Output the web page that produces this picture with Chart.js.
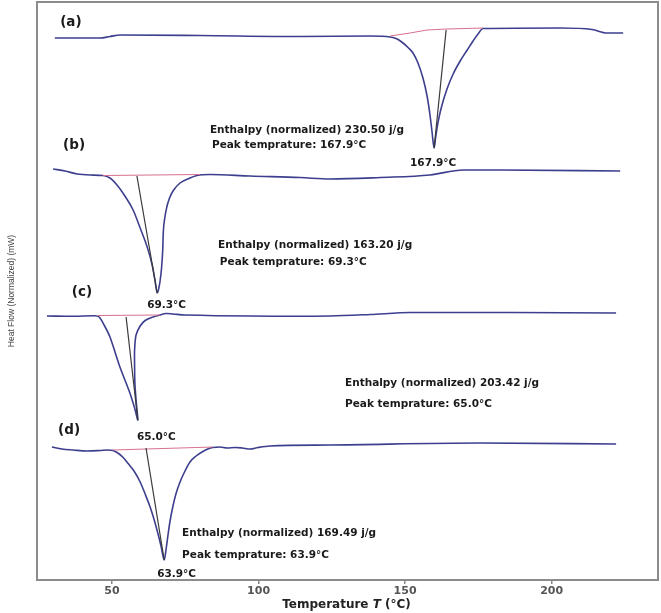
<!DOCTYPE html>
<html>
<head>
<meta charset="utf-8">
<script src="https://cdn.jsdelivr.net/npm/chart.js@4.4.1/dist/chart.umd.min.js"></script>
<style>
  body { margin: 0; background: #fff; }
  #box { width: 661px; height: 613px; }
</style>
</head>
<body>
<div id="box"><canvas id="graph"></canvas></div>
<script>
// DSC curves (a)-(d), temperature in °C, heat flow in arbitrary stacked units
var aTemp = [30.5, 45.9, 49.3, 52.7, 80.0, 114.2, 138.1, 144.9, 147.3, 149.3, 151.0, 152.7, 154.4, 156.1, 157.5, 158.5, 159.2, 159.9, 160.4, 160.9, 161.6, 162.6, 164.3, 166.4, 168.8, 171.2, 173.2, 174.9, 176.6, 202.9, 213.8, 218.9, 224.4];
var aFlow = [542, 542, 543.5, 545, 544.5, 543.5, 544, 543, 541, 537, 532.5, 527, 517, 502, 484, 465, 448, 432, 442, 452, 463, 475, 491, 506, 519, 530, 539, 546, 551.5, 552, 550.5, 547, 547];
var aBaseTemp = [144.9, 151.7, 157.5, 164.3, 176.6];
var aBaseFlow = [544, 547, 550, 551, 552];
var aPeakTemp = [164.0, 159.9];
var aPeakFlow = [550, 432];

var bTemp = [29.9, 34.0, 38.1, 42.5, 46.9, 49.3, 51.7, 54.4, 57.2, 59.6, 62.0, 63.7, 64.7, 65.4, 65.9, 66.4, 66.9, 67.3, 67.5, 68.0, 68.7, 69.5, 70.8, 73.2, 76.6, 79.0, 83.4, 97.1, 114.2, 124.4, 141.5, 158.5, 169.8, 182.4, 223.4];
var bFlow = [411, 409, 406, 405, 404.5, 402, 395, 384, 370, 352, 333, 315, 299, 287, 291, 299, 312, 330, 348, 362, 373, 381, 389, 397, 402, 404.5, 405.5, 404, 402.5, 401, 402.5, 405, 410, 410, 409];
var bBaseTemp = [46.9, 80.0];
var bBaseFlow = [404.5, 405.5];
var bPeakTemp = [58.5, 65.4];
var bPeakFlow = [404, 287];

var cTemp = [27.8, 37.4, 44.2, 45.6, 47.3, 49.3, 52.7, 56.1, 57.8, 58.8, 58.2, 57.8, 57.7, 57.7, 58.2, 59.6, 61.3, 64.0, 66.4, 68.4, 70.8, 74.9, 97.1, 124.4, 138.1, 151.7, 222.0];
var cFlow = [264, 263.7, 264.2, 263, 255, 243, 213, 187, 171, 160, 180, 197, 215, 230, 245, 254, 259.5, 263, 265, 266.5, 266, 265, 264, 264, 265.5, 267.5, 267];
var cBaseTemp = [45.2, 66.4];
var cBaseFlow = [264.5, 265];
var cPeakTemp = [54.8, 58.8];
var cPeakFlow = [263, 160];

var dTemp = [29.5, 32.9, 36.7, 41.5, 45.9, 48.6, 50.3, 52.0, 53.8, 55.5, 57.5, 59.6, 61.3, 63.0, 64.4, 65.7, 66.8, 67.8, 68.5, 69.1, 69.8, 70.8, 71.8, 73.2, 74.9, 76.6, 78.7, 81.0, 82.7, 84.4, 86.8, 89.3, 92.0, 94.4, 97.1, 99.8, 103.9, 124.4, 175.6, 222.0];
var dFlow = [133, 131, 130, 129, 129.5, 130, 129.5, 127, 122.5, 116.5, 109, 98, 86, 73, 60, 46, 33, 20, 32, 45, 59, 74, 86, 98, 109, 118, 124, 128.5, 131, 132.5, 133, 132, 132.5, 132, 131, 132.5, 134, 135, 137, 136];
var dBaseTemp = [50.3, 84.4];
var dBaseFlow = [130, 133];
var dPeakTemp = [61.6, 67.8];
var dPeakFlow = [132, 20];

var xTicks = [50, 100, 150, 200];

// [text, temp, flow, kind]
var notes = [
  ['(a)', 32.3, 558, 'tag'],
  ['Enthalpy (normalized) 230.50 j/g', 83.4, 450, 'txt'],
  ['Peak temprature: 167.9°C', 84.1, 435, 'txt'],
  ['167.9°C', 151.7, 417, 'txt'],
  ['(b)', 33.3, 435, 'tag'],
  ['Enthalpy (normalized) 163.20 j/g', 86.2, 335, 'txt'],
  ['Peak temprature: 69.3°C', 86.8, 318, 'txt'],
  ['69.3°C', 62.0, 275, 'txt'],
  ['(c)', 36.3, 288, 'tag'],
  ['Enthalpy (normalized) 203.42 j/g', 129.5, 197, 'txt'],
  ['Peak temprature: 65.0°C', 129.5, 176, 'txt'],
  ['65.0°C', 58.5, 143, 'txt'],
  ['(d)', 31.6, 150, 'tag'],
  ['Enthalpy (normalized) 169.49 j/g', 73.9, 47, 'txt'],
  ['Peak temprature: 63.9°C', 73.9, 25, 'txt'],
  ['63.9°C', 65.4, 6, 'txt']
];

function pts(xs, ys) {
  return xs.map(function (x, i) { return { x: x, y: ys[i] }; });
}

function curve(xs, ys, smooth) {
  var ds = {
    data: pts(xs, ys),
    borderColor: '#3d3f8e',
    borderWidth: 1.6,
    pointRadius: 0,
    order: 3
  };
  if (smooth) ds.cubicInterpolationMode = 'monotone';
  else ds.tension = 0.3;
  return ds;
}

function base(xs, ys) {
  return { data: pts(xs, ys), borderColor: '#d7708c', borderWidth: 1, pointRadius: 0, order: 2 };
}

function drop(xs, ys) {
  return { data: pts(xs, ys), borderColor: '#3a3a3a', borderWidth: 1.2, pointRadius: 0, order: 1 };
}

var framePlugin = {
  id: 'frame',
  beforeDatasetsDraw: function (chart) {
    var a = chart.chartArea, ctx = chart.ctx;
    ctx.save();
    ctx.strokeStyle = '#8c8c8c';
    ctx.lineWidth = 2;
    ctx.strokeRect(a.left, a.top, a.right - a.left, a.bottom - a.top);
    ctx.restore();
  },
  afterDatasetsDraw: function (chart) {
    var ctx = chart.ctx, xs = chart.scales.x, ys = chart.scales.y;
    ctx.save();
    ctx.fillStyle = '#1a1a1a';
    ctx.textBaseline = 'middle';
    ctx.textAlign = 'left';
    notes.forEach(function (n) {
      ctx.font = n[3] == 'tag' ? "bold 13.5px 'DejaVu Sans'" : "bold 10.5px 'DejaVu Sans'";
      ctx.fillText(n[0], xs.getPixelForValue(n[1]), ys.getPixelForValue(n[2]));
    });
    // x axis title with italic T
    var p1 = 'Temperature ', p2 = 'T', p3 = ' (°C)';
    var f = "bold 12px 'DejaVu Sans'", fi = "italic bold 12px 'DejaVu Sans'";
    ctx.font = f; var w1 = ctx.measureText(p1).width, w3 = ctx.measureText(p3).width;
    ctx.font = fi; var w2 = ctx.measureText(p2).width;
    var x0 = (chart.chartArea.left + chart.chartArea.right) / 2 - 1 - (w1 + w2 + w3) / 2;
    var y0 = 605;
    ctx.fillStyle = '#222';
    ctx.font = f; ctx.fillText(p1, x0, y0);
    ctx.font = fi; ctx.fillText(p2, x0 + w1, y0);
    ctx.font = f; ctx.fillText(p3, x0 + w1 + w2, y0);
    ctx.restore();
  }
};

var config = {
  type: 'line',
  data: {
    datasets: [
      curve(aTemp, aFlow, true), base(aBaseTemp, aBaseFlow), drop(aPeakTemp, aPeakFlow),
      curve(bTemp, bFlow, true), base(bBaseTemp, bBaseFlow), drop(bPeakTemp, bPeakFlow),
      curve(cTemp, cFlow, false), base(cBaseTemp, cBaseFlow), drop(cPeakTemp, cPeakFlow),
      curve(dTemp, dFlow, true), base(dBaseTemp, dBaseFlow), drop(dPeakTemp, dPeakFlow)
    ]
  },
  options: {
    responsive: true,
    maintainAspectRatio: false,
    animation: false,
    layout: { padding: { left: 0, right: 3, top: 2, bottom: 0 } },
    plugins: { legend: { display: false }, tooltip: { enabled: false } },
    scales: {
      x: {
        type: 'linear',
        min: 24.4,
        max: 236.3,
        afterFit: function (s) { s.height = 33; },
        afterBuildTicks: function (s) { s.ticks = xTicks.map(function (v) { return { value: v }; }); },
        ticks: {
          font: { family: 'DejaVu Sans', size: 11, weight: 'bold' },
          color: '#555',
          padding: 1,
          maxRotation: 0
        },
        grid: { drawOnChartArea: false, drawTicks: true, tickLength: 4, color: '#888', lineWidth: 1.5 },
        border: { display: false }
      },
      y: {
        min: 0,
        max: 578,
        afterFit: function (s) { s.width = 37; },
        ticks: { display: false },
        grid: { display: false },
        border: { display: false },
        title: {
          display: true,
          text: 'Heat Flow (Normalized) (mW)',
          font: { family: 'Liberation Sans', size: 8.5 },
          color: '#444',
          padding: { top: 7, bottom: 0 }
        }
      }
    }
  },
  plugins: [framePlugin]
};

var graph = new Chart(document.getElementById('graph'), config);
</script>
</body>
</html>
